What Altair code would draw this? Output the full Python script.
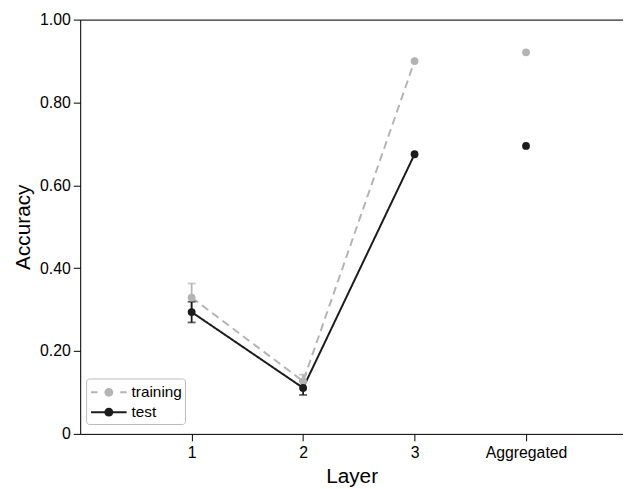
import altair as alt
import pandas as pd

layers = [1, 2, 3, 4]
series_names = ["training", "test"]
train_acc = [0.329, 0.127, 0.900, 0.921]
test_acc = [0.294, 0.111, 0.675, 0.695]
train_err = [0.034, 0.016, 0.0, 0.0]
test_err = [0.025, 0.017, 0.0, 0.0]
x_labels = ["1", "2", "3", "Aggregated"]

GRAY = "#b4b4b4"
DARK = "#1c1c1c"
FONT = "Liberation Sans"

rows = []
for name, acc, err in [("training", train_acc, train_err), ("test", test_acc, test_err)]:
    for l, a, e in zip(layers, acc, err):
        rows.append({"series": name, "layer": l, "value": a, "err": e,
                     "lo": a - e, "hi": a + e})
df = pd.DataFrame(rows)

label_expr = ("datum.value == 1 ? '%s' : datum.value == 2 ? '%s' : datum.value == 3 ? '%s' : '%s'"
              % tuple(x_labels))

x_scale = alt.Scale(domain=[0, 4.87], nice=False, zero=False)
y_scale = alt.Scale(domain=[0, 1], nice=False)
color_scale = alt.Scale(domain=series_names, range=[GRAY, DARK])

y_axis = alt.Axis(values=[0, 0.2, 0.4, 0.6, 0.8, 1.0],
                  labelExpr="datum.value == 0 ? '0' : format(datum.value, '.2f')",
                  grid=False, tickSize=7, tickColor="black", domainColor="black",
                  labelFontSize=16, labelColor="black", labelPadding=3,
                  titleFontSize=21, titleFontWeight="normal", titleColor="black",
                  titlePadding=6, labelFont=FONT, titleFont=FONT)

x_axis = alt.Axis(values=layers, labelExpr=label_expr, grid=False, tickSize=7,
                  tickColor="black", domainColor="black", labelFontSize=16,
                  labelColor="black", labelPadding=4, titleFontSize=21,
                  titleFontWeight="normal", titleColor="black", titlePadding=5,
                  labelFont=FONT, titleFont=FONT)

top_axis = alt.Axis(orient="top", labels=False, ticks=False, title=None, grid=False,
                    domainColor="black")

base = alt.Chart(df)
X = lambda ax: alt.X("layer:Q", scale=x_scale, axis=ax, title="Layer")
Y = alt.Y("value:Q", scale=y_scale, axis=y_axis, title="Accuracy")


def series_layers(name, color, dash, first):
    line = base.transform_filter(
        "datum.layer <= 3 && datum.series == '%s'" % name
    ).mark_line(strokeWidth=2, strokeDash=dash, color=color).encode(
        x=X(x_axis if first else None), y=Y)
    err = base.transform_filter(
        "datum.err > 0 && datum.series == '%s'" % name
    ).mark_errorbar(ticks={"size": 8}, thickness=1.8, color=color).encode(
        x=X(None), y=alt.Y("lo:Q", scale=y_scale, title="Accuracy"), y2="hi:Q")
    pts = base.transform_filter(
        "datum.series == '%s'" % name
    ).mark_point(filled=True, size=62, opacity=1, color=color).encode(
        x=X(top_axis if first else None), y=Y)
    return line, err, pts


tl, te, tp = series_layers("training", GRAY, [8, 5], True)
sl, se, sp = series_layers("test", DARK, [1, 0], False)

# legend glyph: a line with a dot in its middle (unit = 10 px)
zigzag = "M0.9,0H0.6" + "H1.2H0.6" * 3 + "L0.45,0"
dot = zigzag + "A0.45,0.45,0,1,1,1.35,0A0.45,0.45,0,1,1,0.45,0Z"
legend_path = "M-0.9,0H2.7" + dot

legend = alt.Legend(
    orient="none", legendX=6, legendY=363, title=None, symbolType=legend_path,
    symbolSize=400, symbolStrokeWidth=2,
    labelFontSize=15.5, labelFont=FONT, labelColor="black", labelOffset=21,
    padding=3, rowPadding=0, strokeColor="#bbbbbb", cornerRadius=3,
    fillColor="white", symbolOpacity=1,
)

# invisible layer that only carries the legend
legend_layer = base.mark_point(filled=True, opacity=0, strokeWidth=2).encode(
    x=X(None),
    y=Y,
    fill=alt.Fill("series:N", scale=color_scale, legend=legend),
    stroke=alt.Stroke("series:N", scale=color_scale, legend=legend),
    strokeDash=alt.StrokeDash(
        "series:N",
        scale=alt.Scale(domain=series_names,
                        range=[[6.5, 23, 6.5, 1000], [36, 1000]]),
        legend=legend),
)

chart = alt.layer(tl, sl, te, se, tp, sp, legend_layer).resolve_axis(
    x="independent"
).properties(
    width=549, height=419,
    autosize=alt.AutoSizeParams(type="none"),
    padding={"left": 73, "top": 9, "right": 0, "bottom": 53},
).configure_view(stroke=None).configure(font=FONT)

chart.save("out.html", embed_options={"renderer": "svg", "actions": False})
